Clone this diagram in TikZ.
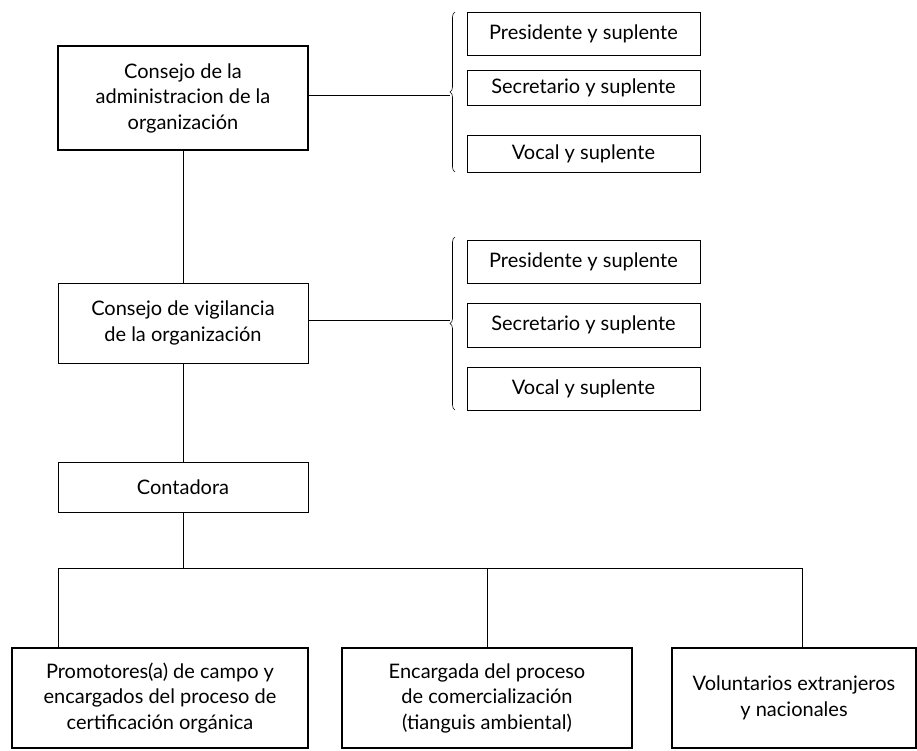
\documentclass[tikz,border=0pt]{standalone}
\usepackage{fontspec}
\setmainfont{Lato}
\usetikzlibrary{positioning,decorations.pathreplacing}
\tikzset{
  caja/.style={
    rectangle,
    draw=black, line width=0.8pt,
    inner sep=0pt, outer sep=0pt,
    align=center,
    font=\fontsize{20}{25.5}\selectfont},
  cajagruesa/.style={caja, line width=1.6pt},
  cargo/.style={caja, minimum width=233, minimum height=40},
  line/.style={draw, line width=0.8pt},
  llave/.style={draw, line width=0.6pt,
    decorate, decoration={brace, amplitude=5pt}},
}

\begin{document}
\begin{tikzpicture}[x=1pt,y=-1pt]
\useasboundingbox (0,0) rectangle (917,750);

% columna de consejos
\node[cajagruesa, minimum width=250, minimum height=104] (admin) at (183,98)
  {Consejo de la\\administracion de la\\organización};
\node[caja, minimum width=250, minimum height=80] (vigil) at (183,323)
  {Consejo de vigilancia\\de la organización};
\node[caja, minimum width=250, minimum height=50] (conta) at (183,487.5)
  {Contadora};

% cargos del consejo de administracion
\node[cargo, minimum height=43] (pres1) at (583.5,33.5) {Presidente y suplente};
\node[cargo, minimum height=35] (secr1) at (583.5,87.5) {Secretario y suplente};
\node[cargo, minimum height=37] (voca1) at (583.5,153.5) {Vocal y suplente};

% cargos del consejo de vigilancia
\node[cargo, minimum height=43] (pres2) at (583.5,261.5) {Presidente y suplente};
\node[cargo, minimum height=44] (secr2) at (583.5,325) {Secretario y suplente};
\node[cargo, minimum height=43] (voca2) at (583.5,388.5) {Vocal y suplente};

% areas operativas
\node[cajagruesa, minimum width=296, minimum height=100] (promo) at (160,698)
  {Promotores(a) de campo y\\encargados del proceso de\\certificación orgánica};
\node[cajagruesa, minimum width=290, minimum height=100] (encar) at (487,698)
  {Encargada del proceso\\de comercialización\\(tianguis ambiental)};
\node[cajagruesa, minimum width=244, minimum height=100] (volun) at (794,698)
  {Voluntarios extranjeros\\y nacionales};

% llaves
\draw[llave] (455,172) -- (455,12);
\draw[llave] (455,410) -- (455,237);
\coordinate (punta1) at (450,95);
\coordinate (punta2) at (450,320);

% conectores
\path[line] (admin.south) -- (vigil.north);
\path[line] (vigil.south) -- (conta.north);
\path[line] (admin.east |- punta1) -- (punta1);
\path[line] (vigil.east |- punta2) -- (punta2);

\coordinate (bus) at (183,568);
\coordinate (busizq) at (58,568);
\coordinate (busder) at (802,568);
\path[line] (conta.south) -- (bus);
\path[line] (busizq) -- (busder);
\path[line] (busizq) -- (busizq |- promo.north);
\path[line] (encar.north |- bus) -- (encar.north);
\path[line] (busder) -- (busder |- volun.north);
\end{tikzpicture}
\end{document}
